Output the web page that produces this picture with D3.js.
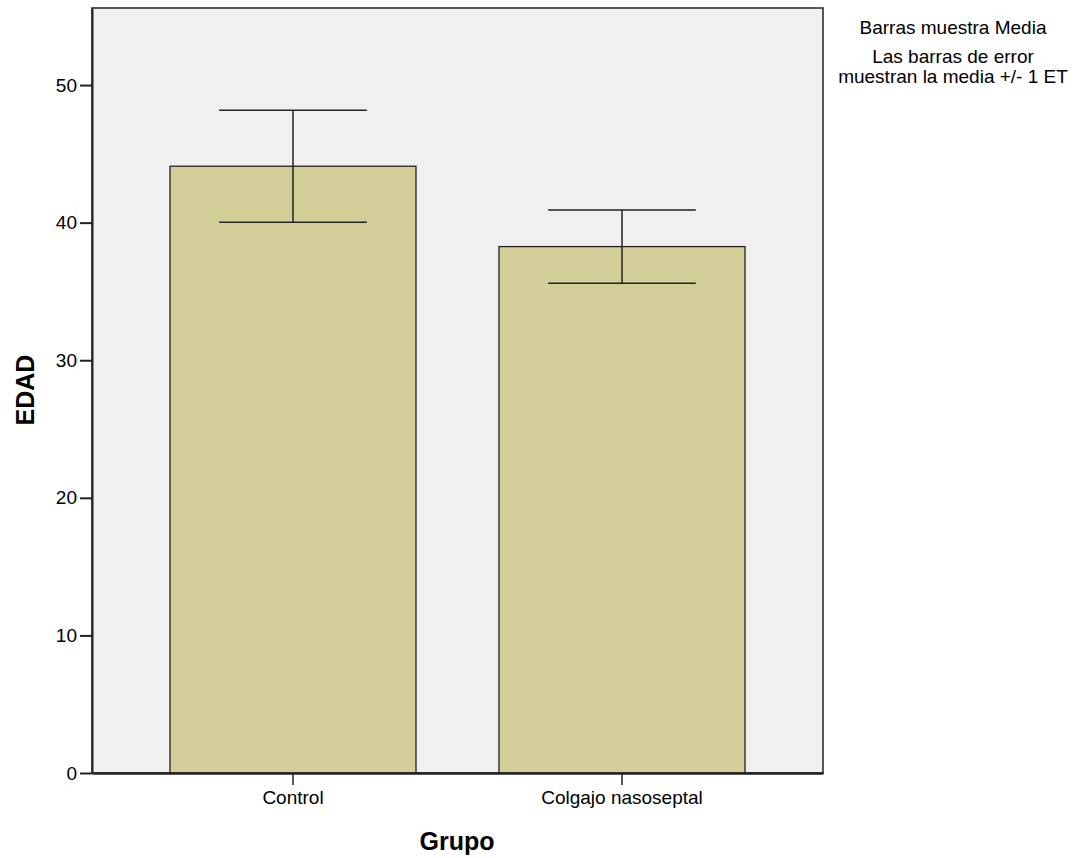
<!DOCTYPE html>
<html>
<head>
<meta charset="utf-8">
<script src="https://cdn.jsdelivr.net/npm/d3@7"></script>
<style>
  html, body { margin: 0; padding: 0; background: #fff; }
  svg text { font-family: Arial, "Liberation Sans", sans-serif; fill: #000; }
</style>
</head>
<body>
<svg id="chart" width="1076" height="858"></svg>
<script>
// Mean age per group with standard error
const groups = ["Control", "Colgajo nasoseptal"];
const means = [44.1, 38.26];
const stdErrors = [4.07, 2.66];
const yTicks = [0, 10, 20, 30, 40, 50];
const notes = ["Barras muestra Media", "Las barras de error", "muestran la media +/- 1 ET"];

const svg = d3.select("#chart");
const plot = { left: 92, right: 823, top: 8, bottom: 773 };

const x = d3.scaleBand()
  .domain(groups)
  .range([plot.left, plot.right])
  .paddingInner(0.2523)
  .paddingOuter(0.2371);

const y = d3.scaleLinear()
  .domain([0, 55.6])
  .range([plot.bottom, plot.top]);

// plot background
svg.append("rect")
  .attr("x", plot.left).attr("y", plot.top)
  .attr("width", plot.right - plot.left).attr("height", plot.bottom - plot.top)
  .attr("fill", "#f0f0f0")
  .attr("stroke", "#222").attr("stroke-width", 1.5);

// bars
svg.append("g").selectAll("rect")
  .data(groups)
  .join("rect")
  .attr("x", d => x(d))
  .attr("y", (d, i) => y(means[i]))
  .attr("width", x.bandwidth())
  .attr("height", (d, i) => y(0) - y(means[i]))
  .attr("fill", "#d3ce97")
  .attr("stroke", "#222")
  .attr("stroke-width", 1.3);

// error bars (mean +/- 1 SE)
const capHalf = x.bandwidth() * 0.3;
const err = svg.append("g").attr("stroke", "#222").attr("stroke-width", 1.5);
groups.forEach((g, i) => {
  const cx = x(g) + x.bandwidth() / 2;
  const hi = y(means[i] + stdErrors[i]);
  const lo = y(means[i] - stdErrors[i]);
  err.append("line").attr("x1", cx).attr("x2", cx).attr("y1", hi).attr("y2", lo);
  err.append("line").attr("x1", cx - capHalf).attr("x2", cx + capHalf).attr("y1", hi).attr("y2", hi);
  err.append("line").attr("x1", cx - capHalf).attr("x2", cx + capHalf).attr("y1", lo).attr("y2", lo);
});

// y axis
const yAxis = svg.append("g")
  .attr("transform", `translate(${plot.left},0)`)
  .call(d3.axisLeft(y).tickValues(yTicks).tickSize(12).tickPadding(3).tickSizeOuter(0));
yAxis.select(".domain").attr("stroke", "#222").attr("stroke-width", 2);
yAxis.selectAll(".tick line").attr("stroke", "#222").attr("stroke-width", 2);
yAxis.selectAll(".tick text").attr("font-size", 19).attr("fill", "#000");

// x axis
const xAxis = svg.append("g")
  .attr("transform", `translate(0,${plot.bottom})`)
  .call(d3.axisBottom(x).tickSize(12).tickPadding(6).tickSizeOuter(0));
xAxis.select(".domain").attr("stroke", "#222").attr("stroke-width", 2.5);
xAxis.selectAll(".tick line").attr("stroke", "#222").attr("stroke-width", 1.5);
xAxis.selectAll(".tick text").attr("font-size", 19).attr("fill", "#000");

// axis titles
svg.append("text")
  .attr("x", 457).attr("y", 850)
  .attr("text-anchor", "middle")
  .attr("font-size", 25).attr("font-weight", "bold")
  .text("Grupo");

svg.append("text")
  .attr("transform", "translate(34,390) rotate(-90)")
  .attr("text-anchor", "middle")
  .attr("font-size", 25).attr("font-weight", "bold")
  .text("EDAD");

// notes at the top right
const noteY = [34, 63, 83];
svg.append("g").selectAll("text")
  .data(notes)
  .join("text")
  .attr("x", 953)
  .attr("y", (d, i) => noteY[i])
  .attr("text-anchor", "middle")
  .attr("font-size", 19)
  .text(d => d);
</script>
</body>
</html>
